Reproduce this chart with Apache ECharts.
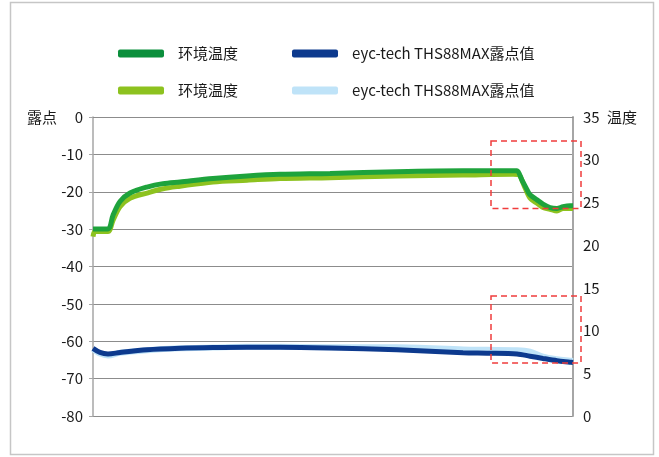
<!DOCTYPE html>
<html><head><meta charset="utf-8">
<script src="https://cdn.jsdelivr.net/npm/echarts@6/dist/echarts.min.js"></script>
<style>html,body{margin:0;padding:0;background:#fff}#c{width:659px;height:457px}</style>
</head><body><div id="c"></div>
<script>
// ---- data (x = time index) ----
const tempX1 = [0,15,20,27,37,54,70,87,120,154,187,237,304,370,420,424,429,434,437,444,450,457,464,470,477,480];
const tempEnv1 = [21.9,21.9,23.5,25.1,26.1,26.8,27.2,27.4,27.8,28.1,28.3,28.4,28.6,28.7,28.7,28.7,27.6,26.5,25.9,25.3,24.8,24.4,24.3,24.5,24.6,24.6];
const tempX2 = [0,2,15,20,27,37,54,70,87,120,154,187,237,304,370,420,426,431,437,444,450,457,464,470,477,480];
const tempEnv2 = [21.0,21.6,21.6,22.9,24.5,25.5,26.1,26.6,26.9,27.4,27.6,27.8,27.9,28.1,28.2,28.3,28.2,27.0,25.5,24.9,24.4,24.2,24.0,24.3,24.3,24.3];
const dewX1 = [0,7,15,27,54,87,120,154,187,237,304,370,394,424,437,450,464,477,480];
const dew1 = [-61.9,-63.0,-63.4,-63.0,-62.3,-61.9,-61.7,-61.6,-61.6,-61.8,-62.3,-63.1,-63.2,-63.4,-64.0,-64.6,-65.2,-65.6,-65.7];
const dewX2 = [0,7,15,27,54,87,120,154,187,237,304,370,394,424,437,450,464,477,480];
const dew2 = [-62.1,-63.3,-63.8,-63.1,-62.4,-61.9,-61.7,-61.5,-61.5,-61.6,-61.6,-62.2,-62.3,-62.4,-62.8,-64.1,-64.8,-65.2,-65.3];
const seriesNames = ['环境温度#1','eyc-tech THS88MAX露点值#1','环境温度#2','eyc-tech THS88MAX露点值#2'];
const leftTicks = {min:-80, max:0, interval:10, name:'露点'};
const rightTicks = {min:0, max:35, interval:5, name:'温度'};
// annotation boxes in data units: [x0, x1, yTop, yBottom] on right axis
const boxes = [[398, 488, 32.2, 24.3], [398, 488, 14.05, 6.2]];

const FONT = '"Noto Sans CJK SC","Noto Sans",sans-serif';
const zip = (xs, ys) => xs.map((x, i) => [x, ys[i]]);
const chart = echarts.init(document.getElementById('c'), null, {renderer:'canvas'});
const legendBase = {
  left: 113, itemWidth: 46, itemHeight: 8, itemGap: 54, icon: 'roundRect',
  selectedMode: false,
  formatter: n => '{g|}' + n.replace(/#\d$/, ''),
  textStyle: {fontFamily: FONT, fontSize: 15, color: '#1a1a1a', rich: {g: {width: 9}}}
};
chart.setOption({
  animation: false,
  textStyle: {fontFamily: FONT},
  legend: [
    Object.assign({}, legendBase, {top: 41, data: [seriesNames[0], seriesNames[1]]}),
    Object.assign({}, legendBase, {top: 78, data: [seriesNames[2], seriesNames[3]]})
  ],
  grid: {left: 93, right: 86, top: 117, bottom: 41},
  xAxis: {type: 'value', min: 0, max: 480, axisLabel: {show: false}, axisTick: {show: false},
    splitLine: {show: false}, axisLine: {show: true, lineStyle: {color: '#8c8c8c'}}},
  yAxis: [
    {type: 'value', min: leftTicks.min, max: leftTicks.max, interval: leftTicks.interval, position: 'left',
     name: leftTicks.name, nameLocation: 'end', nameGap: 0,
     nameTextStyle: {fontSize: 15, color: '#1a1a1a', align: 'right', verticalAlign: 'middle', padding: [0, 36, 0, 0]},
     axisLine: {show: true, lineStyle: {color: '#a6a6a6', width: 1.5}},
     axisTick: {show: true, length: 4, lineStyle: {color: '#a6a6a6'}},
     axisLabel: {fontSize: 15, color: '#1a1a1a', margin: 10},
     splitLine: {show: true, lineStyle: {color: '#8c8c8c', width: 1}}},
    {type: 'value', min: rightTicks.min, max: rightTicks.max, interval: rightTicks.interval, position: 'right',
     name: rightTicks.name, nameLocation: 'end', nameGap: 0,
     nameTextStyle: {fontSize: 15, color: '#1a1a1a', align: 'left', verticalAlign: 'middle', padding: [0, 0, 8, 34]},
     axisLine: {show: true, lineStyle: {color: '#a6a6a6', width: 2}},
     axisTick: {show: false},
     axisLabel: {fontSize: 15, color: '#1a1a1a', margin: 10},
     splitLine: {show: false}}
  ],
  series: [
    {name: seriesNames[2], type: 'line', yAxisIndex: 1, data: zip(tempX2, tempEnv2), smooth: 0.3, showSymbol: false,
     color: '#8dc21f', lineStyle: {width: 5, color: '#8dc21f'}, z: 2},
    {name: seriesNames[3], type: 'line', yAxisIndex: 0, data: zip(dewX2, dew2), smooth: 0.3, showSymbol: false,
     color: '#bfe3f8', lineStyle: {width: 6, color: '#bfe3f8'}, z: 2},
    {name: seriesNames[0], type: 'line', yAxisIndex: 1, data: zip(tempX1, tempEnv1), smooth: 0.3, showSymbol: false,
     color: '#0b8f3c', lineStyle: {width: 5, color: '#1ea33c'}, z: 3},
    {name: seriesNames[1], type: 'line', yAxisIndex: 0, data: zip(dewX1, dew1), smooth: 0.3, showSymbol: false,
     color: '#0d3a8e', lineStyle: {width: 5, color: '#0d3a8e'}, z: 3}
  ]
});
const rects = boxes.map(b => {
  const p0 = chart.convertToPixel({xAxisIndex: 0, yAxisIndex: 1}, [b[0], b[2]]);
  const p1 = chart.convertToPixel({xAxisIndex: 0, yAxisIndex: 1}, [b[1], b[3]]);
  return {type: 'rect', shape: {x: p0[0], y: p0[1], width: p1[0] - p0[0], height: p1[1] - p0[1]},
    style: {fill: 'none', stroke: '#f03c3c', lineWidth: 1.5, lineDash: [6, 4]}, z: 100};
});
rects.push({type: 'rect', shape: {x: 10.5, y: 2.5, width: 643, height: 452},
  style: {fill: 'none', stroke: '#c6c6c6', lineWidth: 1.5}, z: 100});
chart.setOption({graphic: rects});
</script></body></html>
